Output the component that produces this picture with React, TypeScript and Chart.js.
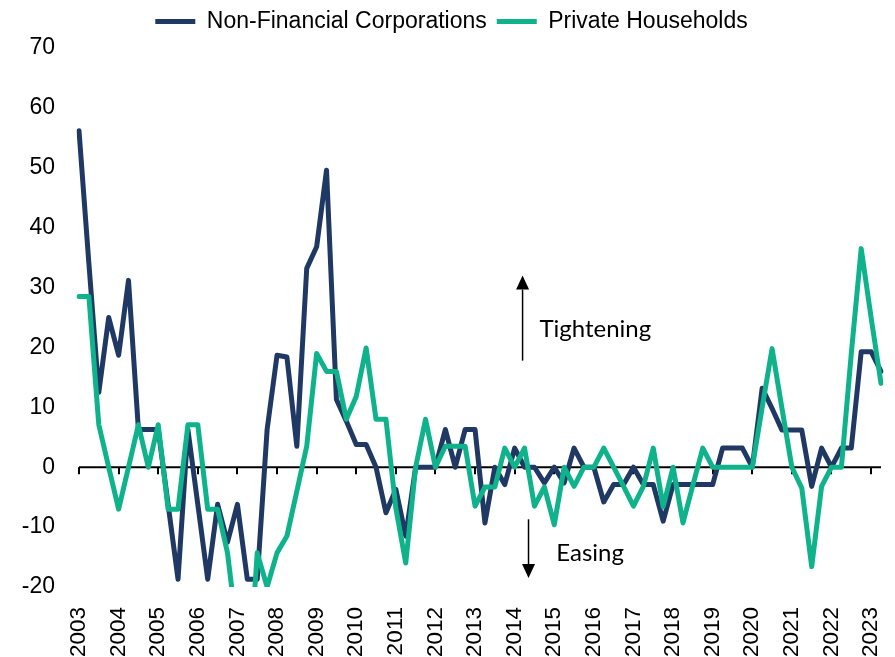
import React, { useEffect, useRef } from 'react';
import { Chart, registerables } from 'chart.js';

Chart.register(...registerables);

// ---- Data ----
const years = [
  2003, 2004, 2005, 2006, 2007, 2008, 2009, 2010, 2011, 2012,
  2013, 2014, 2015, 2016, 2017, 2018, 2019, 2020, 2021, 2022, 2023,
];
const quarters = ['Q1', 'Q2', 'Q3', 'Q4'];
const quarterCount = 82; // 2003 Q1 .. 2023 Q2

const nonFinancialCorporations = [
  56.2, 34, 12.5, 25, 18.7, 31.2, 6.3, 6.3, 6.3, -6.2,
  -18.7, 6.3, -6.2, -18.7, -6.2, -12.5, -6.2, -18.7, -18.7, 6.3,
  18.7, 18.4, 3.5, 33.2, 36.8, 49.6, 11.3, 7.7, 3.8, 3.8,
  0, -7.6, -3.7, -11.5, 0, 0, 0, 6.3, 0, 6.3,
  6.3, -9.3, 0, -2.9, 3.2, 0, 0, -2.6, 0, -2.6,
  3.2, 0, 0, -5.8, -2.9, -2.9, 0, -2.9, -2.9, -9,
  -2.9, -2.9, -2.9, -2.9, -2.9, 3.2, 3.2, 3.2, 0, 13.2,
  9.8, 6.2, 6.2, 6.2, -3.2, 3.2, 0, 3.2, 3.2, 19.3,
  19.3, 16,
];

const privateHouseholds = [
  28.5, 28.5, 7.1, 0, -7, 0, 7.1, 0, 7.1, -7,
  -7, 7.1, 7.1, -7, -7, -14.3, -28, -39, -14.3, -20,
  -14.3, -11.5, -4, 3.5, 19, 16, 16, 8, 11.8, 19.9,
  8, 8, -6.8, -16, 0, 8, 0, 3.5, 3.5, 3.5,
  -6.5, -3.3, -3.3, 3.2, 0, 3.2, -6.5, -3.3, -9.6, 0,
  -3.2, 0, 0, 3.2, 0, -3.2, -6.5, -3.2, 3.2, -6.6,
  0, -9.3, -3, 3.2, 0, 0, 0, 0, 0, 10,
  19.8, 9.8, 0, -3.5, -16.6, -3.2, 0, 0, 19, 36.5,
  25, 14,
];

const yMin = -20;
const yMax = 70;
const yStep = 10;

const seriesNames = ['Non-Financial Corporations', 'Private Households'];
const seriesColors = ['#1f3864', '#0fb38b'];

const annotationTexts = ['Tightening', 'Easing'];

const quarterLabels = years
  .flatMap((yr) => quarters.map((q) => `${yr} ${q}`))
  .slice(0, quarterCount);

const AXIS_FONT = '"Liberation Sans", Arial, sans-serif';
const NOTE_FONT = 'Lato, "Open Sans", sans-serif';

const legendGapPlugin = {
  id: 'legendGap',
  beforeUpdate(chart: any) {
    const lg = chart.legend;
    if (lg && !lg._gapPatched) {
      const orig = lg.fit;
      lg.fit = function fit() {
        orig.call(this);
        this.height += 5;
      };
      lg._gapPatched = true;
    }
  },
};

const refPlugin = {
  id: 'refLines',
  beforeDatasetsDraw(chart: any) {
    const { ctx, scales } = chart;
    const x = scales.x;
    const y = scales.y;
    const y0 = y.getPixelForValue(0);
    ctx.save();
    ctx.strokeStyle = '#000';
    ctx.lineWidth = 2;
    ctx.beginPath();
    ctx.moveTo(x.left, y0);
    ctx.lineTo(x.right, y0);
    quarterLabels.forEach((_, i) => {
      if (i % 4 === 0) {
        const px = Math.round(x.getPixelForValue(i));
        ctx.moveTo(px, y0);
        ctx.lineTo(px, y0 + 7);
      }
    });
    ctx.stroke();
    ctx.restore();
  },
  afterDatasetsDraw(chart: any) {
    const { ctx, scales } = chart;
    const x = scales.x;
    const y = scales.y;
    const arrow = (xi: number, yFrom: number, yTip: number) => {
      const px = x.getPixelForValue(xi);
      const pFrom = y.getPixelForValue(yFrom);
      const pTip = y.getPixelForValue(yTip);
      const dir = pTip < pFrom ? 1 : -1;
      const headLen = 14;
      ctx.beginPath();
      ctx.moveTo(px, pFrom);
      ctx.lineTo(px, pTip + dir * headLen);
      ctx.stroke();
      ctx.beginPath();
      ctx.moveTo(px, pTip);
      ctx.lineTo(px - 6.5, pTip + dir * headLen);
      ctx.lineTo(px + 6.5, pTip + dir * headLen);
      ctx.closePath();
      ctx.fill();
    };
    ctx.save();
    ctx.strokeStyle = '#000';
    ctx.fillStyle = '#000';
    ctx.lineWidth = 1.5;
    arrow(44.8, 17.8, 32);
    arrow(45.4, -8.7, -18.5);
    ctx.font = `24px ${NOTE_FONT}`;
    ctx.textAlign = 'left';
    ctx.textBaseline = 'alphabetic';
    ctx.fillText(annotationTexts[0], x.getPixelForValue(46.5), y.getPixelForValue(21.8));
    ctx.fillText(annotationTexts[1], x.getPixelForValue(48.2), y.getPixelForValue(-15.7));
    ctx.restore();
  },
};

export default function App() {
  const canvasRef = useRef<HTMLCanvasElement | null>(null);

  useEffect(() => {
    document.body.style.margin = '0';
    const canvas = canvasRef.current;
    if (!canvas) return;
    const chart = new Chart(canvas, {
      type: 'line',
      data: {
        labels: quarterLabels,
        datasets: [
          {
            label: seriesNames[1],
            data: privateHouseholds,
            borderColor: seriesColors[1],
            backgroundColor: seriesColors[1],
            borderWidth: 5,
            pointRadius: 0,
            borderJoinStyle: 'round',
            borderCapStyle: 'round',
            tension: 0,
          },
          {
            label: seriesNames[0],
            data: nonFinancialCorporations,
            borderColor: seriesColors[0],
            backgroundColor: seriesColors[0],
            borderWidth: 5,
            pointRadius: 0,
            borderJoinStyle: 'round',
            borderCapStyle: 'round',
            tension: 0,
          },
        ],
      },
      options: {
        animation: false,
        responsive: true,
        maintainAspectRatio: false,
        layout: { padding: { left: 22, right: 14, top: 0, bottom: 0 } },
        plugins: {
          tooltip: { enabled: false },
          legend: {
            display: true,
            position: 'top',
            reverse: true,
            labels: {
              usePointStyle: true,
              pointStyle: 'line',
              pointStyleWidth: 40,
              color: '#000',
              padding: 10,
              font: { family: AXIS_FONT, size: 23 },
            },
          },
        },
        scales: {
          x: {
            type: 'category',
            offset: false,
            grid: { display: false, drawTicks: false },
            border: { display: false },
            afterFit: (s: any) => {
              s.height = 70;
              s.paddingLeft = 0;
              s.paddingRight = 0;
            },
            ticks: {
              autoSkip: false,
              maxRotation: 90,
              minRotation: 90,
              padding: 20,
              color: '#000',
              font: { family: AXIS_FONT, size: 22.5 },
              callback: (_v: any, i: number) =>
                i % 4 === 0 ? quarterLabels[i].slice(0, 4) : null,
            },
          },
          y: {
            min: yMin,
            max: yMax,
            grid: { display: false, drawTicks: false },
            border: { display: false },
            afterFit: (s: any) => {
              s.width = 57;
            },
            ticks: {
              stepSize: yStep,
              padding: 24,
              color: '#000',
              font: { family: AXIS_FONT, size: 23 },
            },
          },
        },
      },
      plugins: [legendGapPlugin, refPlugin],
    });
    return () => chart.destroy();
  }, []);

  return (
    <div style={{ width: 895, height: 657, position: 'relative' }}>
      <canvas ref={canvasRef} />
    </div>
  );
}
